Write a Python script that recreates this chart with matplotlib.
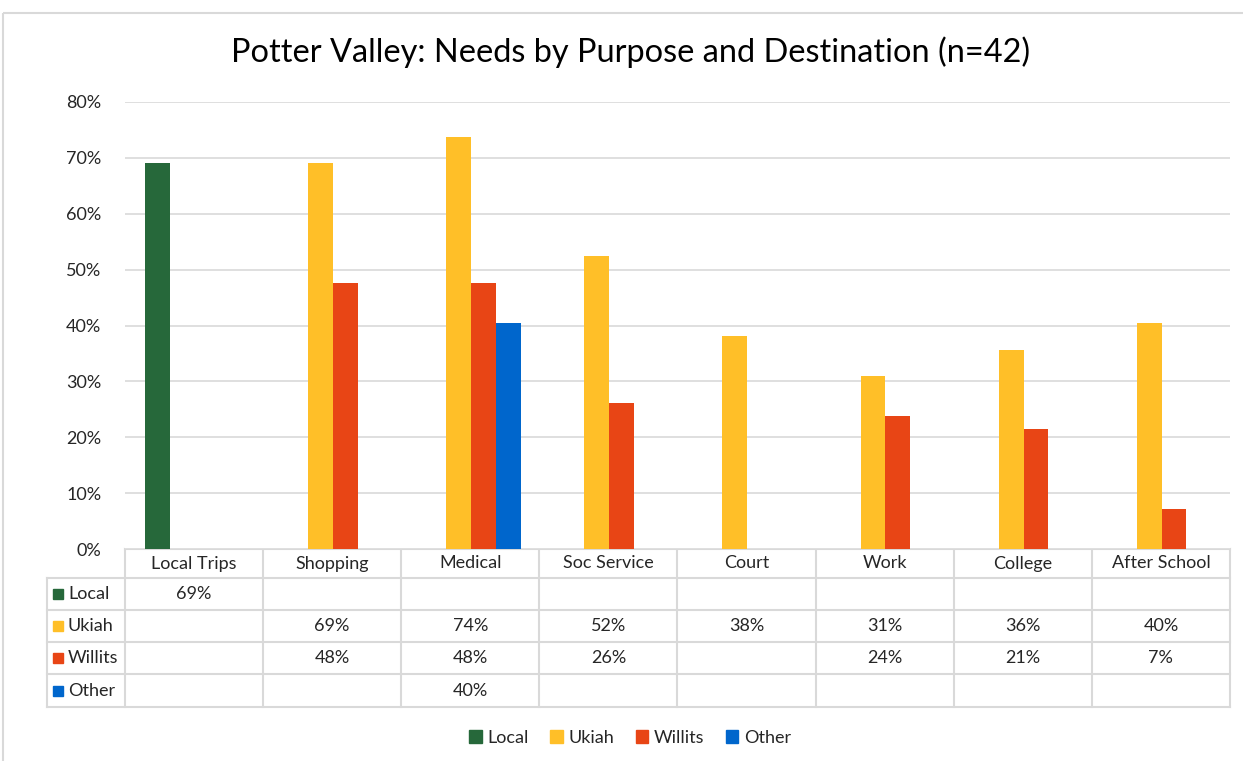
import numpy as np
import matplotlib.pyplot as plt
from matplotlib.patches import Patch, Rectangle

plt.rcParams['font.family'] = ['Lato', 'DejaVu Sans']

# data
categories = ['Local Trips', 'Shopping', 'Medical', 'Soc Service', 'Court', 'Work', 'College', 'After School']
series = ['Local', 'Ukiah', 'Willits', 'Other']
local = [0.690, None, None, None, None, None, None, None]
ukiah = [None, 0.690, 0.738, 0.524, 0.381, 0.310, 0.357, 0.405]
willits = [None, 0.476, 0.476, 0.262, None, 0.238, 0.214, 0.071]
other = [None, None, 0.405, None, None, None, None, None]
yticks = [0, 0.1, 0.2, 0.3, 0.4, 0.5, 0.6, 0.7, 0.8]
colors = ['#26683A', '#FFBF28', '#E84515', '#0066CC']

values = [local, ukiah, willits, other]
W, H = 1243, 761
txt = '#262626'
fig = plt.figure(figsize=(W / 100, H / 100), dpi=100)

# plot area in pixel terms
x0, x1 = 125, 1230
y_top, y_zero = 102, 549
ax = fig.add_axes([x0 / W, 1 - y_zero / H, (x1 - x0) / W, (y_zero - y_top) / H])

n = len(categories)
bw = 0.18
x = np.arange(n)
for i, (name, vals) in enumerate(zip(series, values)):
    v = np.array([np.nan if a is None else a for a in vals])
    ax.bar(x + (i - 1.5) * bw + 0.005, v, width=bw, color=colors[i], label=name, zorder=3)

ax.set_xlim(-0.5, n - 0.5)
ax.set_ylim(0, 0.8)
ax.set_yticks(yticks)
ax.set_yticklabels(['{:.0f}%'.format(t * 100) for t in yticks], fontsize=13, color=txt)
ax.set_xticks([])
ax.grid(axis='y', color='#d9d9d9', linewidth=1.2, zorder=0)
for s in ax.spines.values():
    s.set_visible(False)
ax.tick_params(axis='y', length=0, pad=17)

# overlay in pixel coords for the data table and frame
ov = fig.add_axes([0, 0, 1, 1], zorder=-1)
ov.set_xlim(0, W)
ov.set_ylim(H, 0)
ov.axis('off')
ov.patch.set_alpha(0)

ov.add_patch(Rectangle((3, 13), W + 10, H + 10, fill=False, edgecolor='#d9d9d9', linewidth=1.5))

lc = '#d9d9d9'
rows = [549, 578, 610, 642, 674, 707]
cw = (x1 - x0) / n
tab_left = 47
# horizontal lines
ov.plot([x0, x1], [rows[0], rows[0]], color=lc, lw=1.5)
for r in rows[1:]:
    ov.plot([tab_left, x1], [r, r], color=lc, lw=1.5)
# vertical lines
for k in range(n + 1):
    ov.plot([x0 + k * cw] * 2, [rows[0], rows[-1]], color=lc, lw=1.5)
ov.plot([tab_left] * 2, [rows[1], rows[-1]], color=lc, lw=1.5)

# header
for k, c in enumerate(categories):
    ov.text(x0 + (k + 0.5) * cw, (rows[0] + rows[1]) / 2, c, ha='center', va='center',
            fontsize=13, color=txt)
# series rows
for i, (name, vals) in enumerate(zip(series, values)):
    yc = (rows[i + 1] + rows[i + 2]) / 2
    ov.add_patch(Rectangle((53, yc - 5), 10, 10, color=colors[i]))
    ov.text(68, yc, name, ha='left', va='center', fontsize=13, color=txt)
    for k, v in enumerate(vals):
        if v is not None:
            ov.text(x0 + (k + 0.5) * cw, yc, '{:.0f}%'.format(v * 100), ha='center', va='center',
                    fontsize=13, color=txt)

fig.text(631 / W, 1 - 52 / H, 'Potter Valley: Needs by Purpose and Destination (n=42)',
         ha='center', va='center', fontsize=23.4, color='#000000')

handles = [Patch(color=c, label=s) for c, s in zip(colors, series)]
fig.legend(handles=handles, loc='center', bbox_to_anchor=(630 / W, 1 - 738 / H), ncol=4,
           frameon=False, fontsize=13, handlelength=0.7, handleheight=0.7,
           handletextpad=0.3, columnspacing=1.2, labelcolor=txt)

fig.savefig('out.png', dpi=100)
